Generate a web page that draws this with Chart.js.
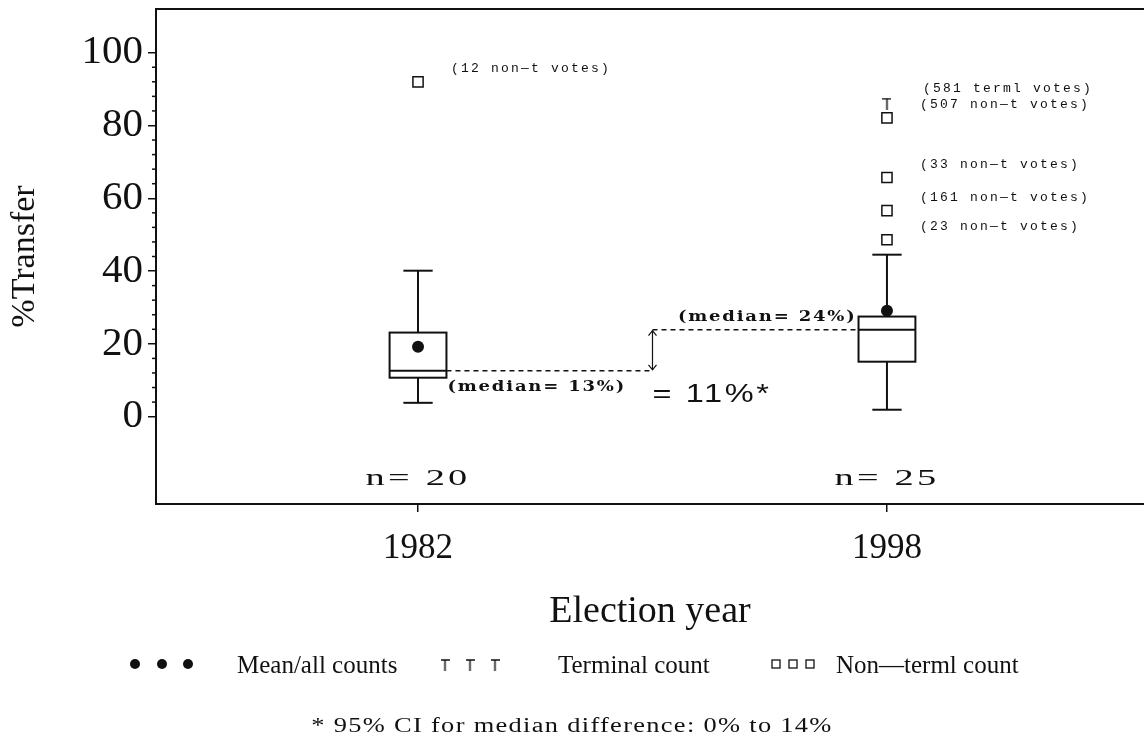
<!DOCTYPE html>
<html>
<head>
<meta charset="utf-8">
<script src="https://cdn.jsdelivr.net/npm/chart.js@4.4.1/dist/chart.umd.min.js"></script>
<style>
  html, body { margin: 0; padding: 0; background: #fff; overflow: hidden; }
  #wrap { width: 1144px; height: 740px; position: relative; }
  #chart-transfer { display: block; }
</style>
</head>
<body>
<div id="wrap"><canvas id="chart-transfer"></canvas></div>
<script>
// box plot per election year
const years = [1982, 1998];
const boxQ1 = [10.7, 15.1];
const boxMedian = [12.6, 23.9];
const boxQ3 = [23.1, 27.5];
const whiskerLow = [3.8, 1.9];
const whiskerHigh = [40.1, 44.5];
const meanValues = [19.2, 29.1];
const sampleSizes = [20, 25];
const medianLabels = ["(median= 13%)", "(median= 24%)"];

// outliers
const outlierYears = [1982, 1998, 1998, 1998, 1998];
const outlierValues = [92, 82.1, 65.7, 56.6, 48.6];
const outlierLabels = ["(12 non\u2014t votes)", "(507 non\u2014t votes)", "(33 non\u2014t votes)", "(161 non\u2014t votes)", "(23 non\u2014t votes)"];
const terminalYears = [1998];
const terminalValues = [86];
const terminalLabels = ["(581 terml votes)"];

const yTicks = [0, 20, 40, 60, 80, 100];
const yMinorTicks = [4, 8, 12, 16, 24, 28, 32, 36, 44, 48, 52, 56, 64, 68, 72, 76, 84, 88, 92, 96];
const legendLabels = ["Mean/all counts", "Terminal count", "Non\u2014terml count"];
const diffLabel = "= 11%*";
const footnote = "* 95% CI for median difference: 0% to 14%";

const INK = "#111";
const SERIF = "'Liberation Serif', 'Times New Roman', serif";
const BOX_HALF = 0.97;
const CAP_HALF = 0.5;
const N_LABEL_Y = -17;

function drawText(ctx, text, x, y, font, opts = {}) {
  const sx = opts.scaleX || 1;
  ctx.save();
  ctx.font = font;
  ctx.letterSpacing = (opts.spacing || 0) + "px";
  ctx.fillStyle = INK;
  ctx.textBaseline = "middle";
  ctx.textAlign = "left";
  const w = ctx.measureText(text).width * sx;
  let left = x;
  if (opts.align === "center") left = x - w / 2;
  if (opts.align === "right") left = x - w;
  ctx.translate(left, y);
  ctx.scale(sx, 1);
  ctx.fillText(text, 0, 0);
  ctx.restore();
}

function makeTerminalMarker(w, h) {
  const c = document.createElement("canvas");
  c.width = w;
  c.height = h;
  const g = c.getContext("2d");
  g.strokeStyle = INK;
  g.lineWidth = 1.5;
  g.beginPath();
  g.moveTo(0, 1);
  g.lineTo(w, 1);
  g.moveTo(w / 2, 1);
  g.lineTo(w / 2, h);
  g.stroke();
  return c;
}

const terminalMarker = makeTerminalMarker(9, 12);

function line(ctx, x1, y1, x2, y2) {
  ctx.beginPath();
  ctx.moveTo(x1, y1);
  ctx.lineTo(x2, y2);
  ctx.stroke();
}

const boxPlotPlugin = {
  id: "boxPlot",
  beforeDatasetsDraw(chart) {
    const { ctx, chartArea, scales: { x, y } } = chart;
    ctx.save();
    ctx.strokeStyle = INK;
    ctx.lineWidth = 2;
    line(ctx, chartArea.left, chartArea.top, chartArea.right, chartArea.top);

    years.forEach((yr, i) => {
      const cx = x.getPixelForValue(yr);
      const left = x.getPixelForValue(yr - BOX_HALF);
      const right = x.getPixelForValue(yr + BOX_HALF);
      const capL = x.getPixelForValue(yr - CAP_HALF);
      const capR = x.getPixelForValue(yr + CAP_HALF);
      const yQ1 = y.getPixelForValue(boxQ1[i]);
      const yQ3 = y.getPixelForValue(boxQ3[i]);
      const yMed = y.getPixelForValue(boxMedian[i]);
      const yLo = y.getPixelForValue(whiskerLow[i]);
      const yHi = y.getPixelForValue(whiskerHigh[i]);
      ctx.lineWidth = 2;
      ctx.strokeRect(left, yQ3, right - left, yQ1 - yQ3);
      line(ctx, left, yMed, right, yMed);
      line(ctx, cx, yQ3, cx, yHi);
      line(ctx, capL, yHi, capR, yHi);
      line(ctx, cx, yQ1, cx, yLo);
      line(ctx, capL, yLo, capR, yLo);
    });

    // median difference connectors
    const midYear = (years[0] + years[1]) / 2;
    const ax = x.getPixelForValue(midYear);
    const y0 = y.getPixelForValue(boxMedian[0]);
    const y1 = y.getPixelForValue(boxMedian[1]);
    ctx.lineWidth = 1.5;
    ctx.setLineDash([5, 4]);
    line(ctx, x.getPixelForValue(years[0] + BOX_HALF), y0, ax, y0);
    line(ctx, ax, y1, x.getPixelForValue(years[1] - BOX_HALF), y1);
    ctx.setLineDash([]);
    ctx.lineWidth = 1.2;
    line(ctx, ax, y1 + 1, ax, y0 - 1);
    ctx.beginPath();
    ctx.moveTo(ax - 4, y1 + 6); ctx.lineTo(ax, y1 + 1); ctx.lineTo(ax + 4, y1 + 6);
    ctx.moveTo(ax - 4, y0 - 6); ctx.lineTo(ax, y0 - 1); ctx.lineTo(ax + 4, y0 - 6);
    ctx.stroke();
    ctx.restore();
  },
  afterDraw(chart) {
    const { ctx, chartArea, scales: { x, y } } = chart;
    ctx.save();
    ctx.strokeStyle = INK;
    ctx.lineWidth = 1.5;
    yMinorTicks.forEach((v) => {
      const py = y.getPixelForValue(v);
      line(ctx, chartArea.left - 4, py, chartArea.left, py);
    });

    const mono = "13px 'Liberation Mono', 'DejaVu Sans Mono', monospace";
    outlierYears.forEach((yr, i) => {
      drawText(ctx, outlierLabels[i], x.getPixelForValue(yr) + 33, y.getPixelForValue(outlierValues[i]) - 13, mono, { spacing: 2.2 });
    });
    terminalYears.forEach((yr, i) => {
      drawText(ctx, terminalLabels[i], x.getPixelForValue(yr) + 36, y.getPixelForValue(terminalValues[i]) - 15, mono, { spacing: 2.2 });
    });

    const bold = "bold 15px 'DejaVu Serif', serif";
    drawText(ctx, medianLabels[0], x.getPixelForValue(years[0] + BOX_HALF) + 1, y.getPixelForValue(boxMedian[0]) + 16, bold, { spacing: 1.5, scaleX: 1.2 });
    drawText(ctx, medianLabels[1], x.getPixelForValue(years[1] - BOX_HALF) - 2, y.getPixelForValue(boxMedian[1]) - 13, bold, { spacing: 1.5, scaleX: 1.2, align: "right" });

    const midYear = (years[0] + years[1]) / 2;
    drawText(ctx, diffLabel, x.getPixelForValue(midYear), y.getPixelForValue(boxMedian[0]) + 24, "25px 'Liberation Sans', Arial, sans-serif", { spacing: 2, scaleX: 1.3 });

    years.forEach((yr, i) => {
      drawText(ctx, "n= " + sampleSizes[i], x.getPixelForValue(yr), y.getPixelForValue(N_LABEL_Y), "24px " + SERIF, { spacing: 2, scaleX: 1.6, align: "center" });
    });

    // legend
    const legendY = 664;
    ctx.fillStyle = INK;
    [135, 162, 188].forEach((lx) => {
      ctx.beginPath();
      ctx.arc(lx, legendY, 5, 0, Math.PI * 2);
      ctx.fill();
    });
    drawText(ctx, legendLabels[0], 237, legendY + 2, "25px " + SERIF);
    [445, 470, 495].forEach((lx) => {
      ctx.drawImage(terminalMarker, lx - 4.5, legendY - 5);
    });
    drawText(ctx, legendLabels[1], 558, legendY + 2, "25px " + SERIF);
    ctx.lineWidth = 1.3;
    [776, 793, 810].forEach((lx) => {
      ctx.strokeRect(lx - 4, legendY - 4, 8, 8);
    });
    drawText(ctx, legendLabels[2], 836, legendY + 2, "25px " + SERIF);

    drawText(ctx, footnote, 572, 727, "20px " + SERIF, { spacing: 1, scaleX: 1.32, align: "center" });
    ctx.restore();
  },
};

function zeroPadding(s) {
  s.paddingTop = 0;
  s.paddingBottom = 0;
  s.paddingLeft = 0;
  s.paddingRight = 0;
}

new Chart(document.getElementById("chart-transfer"), {
  type: "scatter",
  data: {
    datasets: [
      {
        label: legendLabels[0],
        data: years.map((yr, i) => ({ x: yr, y: meanValues[i] })),
        pointStyle: "circle",
        pointRadius: 6,
        backgroundColor: INK,
        borderColor: INK,
        borderWidth: 0,
      },
      {
        label: legendLabels[1],
        data: terminalYears.map((yr, i) => ({ x: yr, y: terminalValues[i] })),
        pointStyle: terminalMarker,
        pointRadius: 6,
      },
      {
        label: legendLabels[2],
        data: outlierYears.map((yr, i) => ({ x: yr, y: outlierValues[i] })),
        pointStyle: "rect",
        pointRadius: 7.2,
        backgroundColor: "#fff",
        borderColor: INK,
        borderWidth: 1.5,
      },
    ],
  },
  options: {
    responsive: true,
    maintainAspectRatio: false,
    animation: false,
    events: [],
    layout: { autoPadding: false, padding: { top: 9, right: 0, left: 0, bottom: 0 } },
    plugins: {
      legend: { display: false },
      tooltip: { enabled: false },
    },
    scales: {
      x: {
        type: "linear",
        min: 1973.06,
        max: 2006.77,
        afterBuildTicks: (s) => { s.ticks = years.map((v) => ({ value: v })); },
        afterFit: (s) => { s.height = 236; zeroPadding(s); },
        ticks: { font: { family: SERIF, size: 35 }, color: INK, padding: 16, callback: (v) => String(v) },
        grid: { display: true, drawOnChartArea: false, drawTicks: true, tickLength: 8, color: INK, lineWidth: 1.5 },
        border: { display: true, color: INK, width: 2 },
        title: { display: true, text: "Election year", color: INK, font: { family: SERIF, size: 38, lineHeight: 1 }, padding: { top: 0, bottom: 109 } },
      },
      y: {
        min: -24,
        max: 112,
        afterBuildTicks: (s) => { s.ticks = yTicks.map((v) => ({ value: v })); },
        afterFit: (s) => { s.width = 156; zeroPadding(s); },
        ticks: { font: { family: SERIF, size: 41 }, color: INK, padding: 5, callback: (v) => String(v) },
        grid: { display: true, drawOnChartArea: false, drawTicks: true, tickLength: 8, color: INK, lineWidth: 1.5 },
        border: { display: true, color: INK, width: 2 },
        title: { display: true, text: "%Transfer", color: INK, font: { family: SERIF, size: 34, lineHeight: 1 }, padding: { top: 8, bottom: 0 } },
      },
    },
  },
  plugins: [boxPlotPlugin],
});
</script>
</body>
</html>
